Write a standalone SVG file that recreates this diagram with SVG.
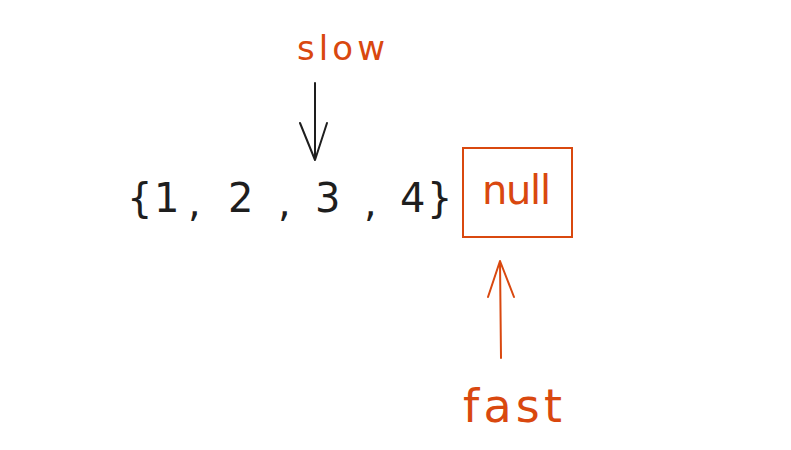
<svg xmlns="http://www.w3.org/2000/svg" width="791" height="450" viewBox="0 0 791 450">
<style>
text{font-family:"DejaVu Sans","Liberation Sans",sans-serif}
.blk{fill:#1e1e1e}
.org{fill:#d9480f}
.ln{fill:none;stroke-linecap:round;stroke-linejoin:round}
</style>
<rect width="791" height="450" fill="#ffffff"/>
<g id="slow-label"><text class="org" x="297" y="60" font-size="34" textLength="88">slow</text></g>
<g id="array">
<text class="blk" font-size="40" y="212"><tspan x="127">{</tspan><tspan x="154">1</tspan><tspan x="188" y="216">,</tspan><tspan x="228" y="212">2</tspan><tspan x="278" y="216">,</tspan><tspan x="315" y="212">3</tspan><tspan x="364" y="216">,</tspan><tspan x="400" y="212">4</tspan><tspan x="427">}</tspan></text>
</g>
<g id="null-node">
<rect x="463" y="148" width="109" height="89" fill="none" stroke="#d9480f" stroke-width="2"/>
<text class="org" x="482" y="204" font-size="40" textLength="69">null</text>
</g>
<g id="fast-label"><text class="org" x="463" y="422" font-size="46" textLength="99">fast</text></g>
<g id="connectors">
<path class="ln" stroke="#1e1e1e" stroke-width="2" d="M315 83 L315 160 M300 123 L315 160 L327 123"/>
<path class="ln" stroke="#d9480f" stroke-width="2" d="M501 358 L500 261 M488 297 L500 261 L514 297"/>
</g>
</svg>
